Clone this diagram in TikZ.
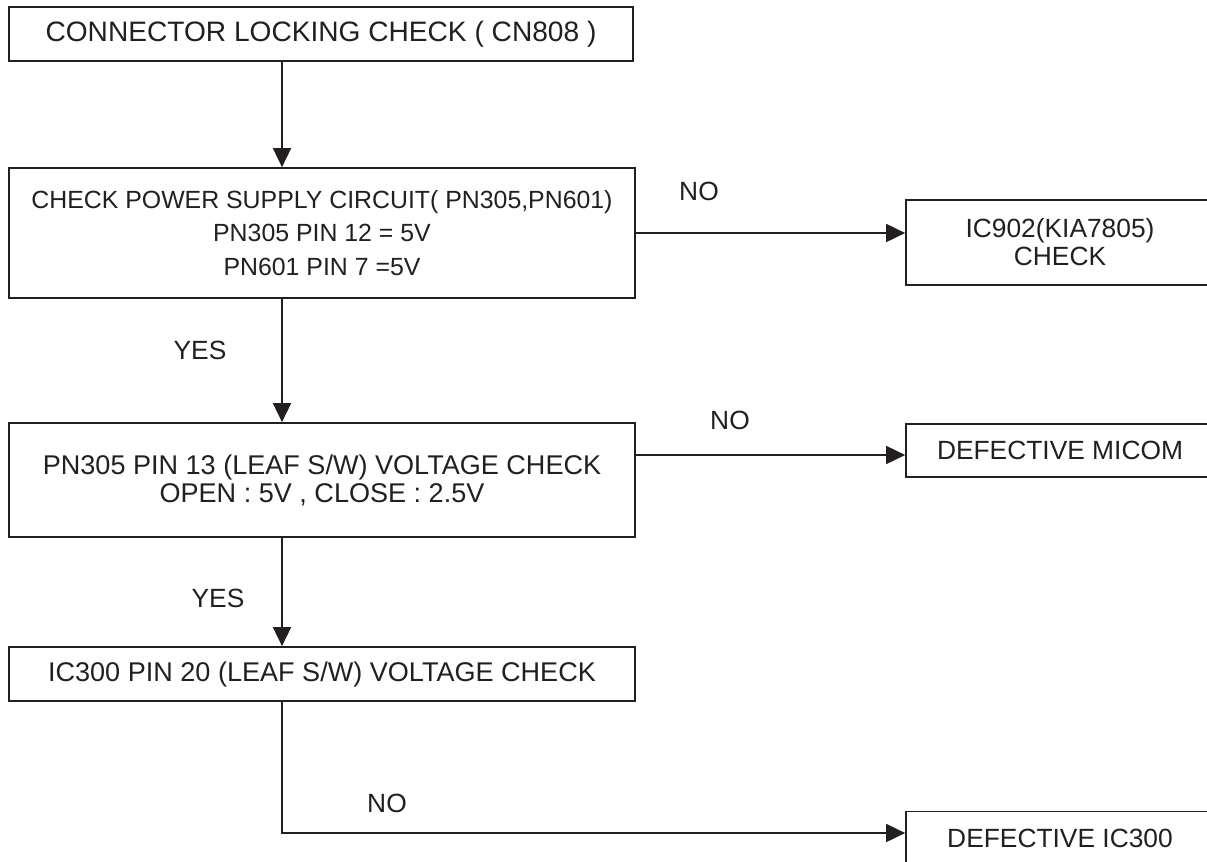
\documentclass[tikz,border=0pt]{standalone}
\usepackage{fontspec}
\setmainfont{Liberation Sans}
\definecolor{mInk}{HTML}{231F20}
\usetikzlibrary{arrows.meta, positioning}

\begin{document}
\begin{tikzpicture}[x=0.02cm, y=-0.02cm,
  box/.style={draw=mInk, line width=1pt, inner sep=0pt, align=center,
              text=mInk, font=\fontsize{15.4}{16}\selectfont},
  lbl/.style={text=mInk, font=\fontsize{15}{16.5}\selectfont},
  arr/.style={draw=mInk, line width=1pt,
              -{Triangle[length=3.8mm, width=3.6mm]}}]
  \useasboundingbox (0,0) rectangle (1207,862);
  \clip (0,0) rectangle (1207,862);
  \coordinate (spine) at (282,0);
  % main column
  \node[box, minimum width=12.48cm, minimum height=1.08cm,
        font=\fontsize{16}{17}\selectfont] (lock) at (321,34)
        {CONNECTOR LOCKING CHECK ( CN808 )};
  \node[box, minimum width=12.52cm, minimum height=2.6cm,
        font=\fontsize{14.15}{15}\selectfont] (pwr) at (322,233)
        {CHECK POWER SUPPLY CIRCUIT( PN305,PN601)\\[4pt]PN305 PIN 12 = 5V\\[4pt]PN601 PIN 7 =5V};
  \node[box, minimum width=12.52cm, minimum height=2.28cm] (leaf) at (322,480)
        {PN305 PIN 13 (LEAF S/W) VOLTAGE CHECK\\[0pt]OPEN : 5V , CLOSE : 2.5V};
  \node[box, minimum width=12.52cm, minimum height=1.08cm] (ic) at (322,674)
        {IC300 PIN 20 (LEAF S/W) VOLTAGE CHECK};
  % right column
  \node[box, minimum width=6.16cm, minimum height=1.7cm,
        font=\fontsize{15}{16}\selectfont] (reg) at (1060,242.5)
        {IC902(KIA7805)\\[0pt]CHECK};
  \node[box, minimum width=6.16cm, minimum height=1.06cm,
        font=\fontsize{15}{16}\selectfont] (micom) at (1060,450.5)
        {DEFECTIVE MICOM};
  \node[box, minimum width=6.16cm, minimum height=1.06cm,
        font=\fontsize{15}{16}\selectfont] (dic) at (1060,838)
        {DEFECTIVE IC300};
  % labels
  \node[lbl] (no1) at (699,191) {NO};
  \node[lbl] (yes1) at (200,350) {YES};
  \node[lbl] (no2) at (730,420) {NO};
  \node[lbl] (yes2) at (218,598) {YES};
  \node[lbl] (no3) at (387,803) {NO};
  % connectors
  \draw[arr] (lock.south -| spine) -- (pwr.north -| spine);
  \draw[arr] (pwr.south -| spine) -- (leaf.north -| spine);
  \draw[arr] (leaf.south -| spine) -- (ic.north -| spine);
  \draw[arr] (pwr.east) -- (pwr.east -| reg.west);
  \coordinate (n2) at ([yshift=-0.09cm]micom.west);
  \draw[arr] (leaf.east |- n2) -- (n2);
  \coordinate (n3) at ([yshift=0.1cm]dic.west);
  \draw[arr] (ic.south -| spine) |- (n3);
\end{tikzpicture}
\end{document}
